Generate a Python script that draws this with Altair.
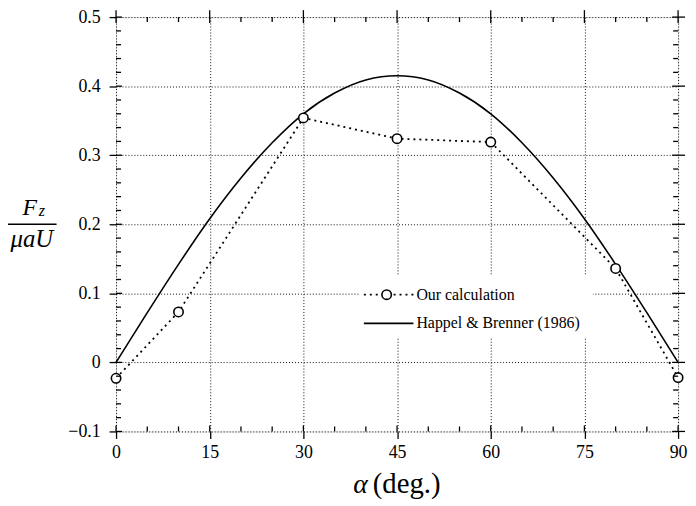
import altair as alt
import pandas as pd

# ---- data ----
x_ticks = [0, 15, 30, 45, 60, 75, 90]
y_ticks = [-0.1, 0.0, 0.1, 0.2, 0.3, 0.4, 0.5]
x_minor = [5, 10, 20, 25, 35, 40, 50, 55, 65, 70, 80, 85]
y_minor = [-0.08, -0.06, -0.04, -0.02, 0.02, 0.04, 0.06, 0.08,
           0.12, 0.14, 0.16, 0.18, 0.22, 0.24, 0.26, 0.28,
           0.32, 0.34, 0.36, 0.38, 0.42, 0.44, 0.46, 0.48]

alpha_hb = [0, 5, 10, 15, 20, 25, 30, 35, 40, 45, 50, 55, 60, 65, 70, 75, 80, 85, 90]
fz_hb = [0.0, 0.072, 0.142, 0.208, 0.267, 0.318, 0.360, 0.390, 0.409, 0.415,
         0.409, 0.390, 0.360, 0.318, 0.267, 0.208, 0.142, 0.072, 0.0]

alpha_calc = [0, 10, 30, 45, 60, 80, 90]
fz_calc = [-0.023, 0.073, 0.354, 0.324, 0.319, 0.136, -0.022]

legend_labels = ["Our calculation", "Happel & Brenner (1986)"]

W, H = 567, 418
FONT = "Liberation Serif"

hb = pd.DataFrame({"a": alpha_hb, "f": fz_hb})
calc = pd.DataFrame({"a": alpha_calc, "f": fz_calc})
xt = pd.DataFrame({"v": x_ticks})
yt = pd.DataFrame({"v": y_ticks})
xm = pd.DataFrame({"v": x_minor})
ym = pd.DataFrame({"v": y_minor})
one = pd.DataFrame({"k": [0]})

xscale = alt.Scale(domain=[0, 90], nice=False, zero=False)
yscale = alt.Scale(domain=[-0.1, 0.5], nice=False, zero=False)

xaxis = alt.Axis(values=x_ticks, grid=True, gridDash=[1, 2], gridColor="#111",
                 gridWidth=1, tickSize=7, tickColor="black", tickWidth=1.3,
                 domain=False, labelFont=FONT, labelFontSize=18, labelColor="black",
                 labelPadding=5, title=None, labelFlush=False)
yaxis = alt.Axis(values=y_ticks, grid=True, gridDash=[1, 2], gridColor="#111",
                 gridWidth=1, tickSize=7, tickColor="black", tickWidth=1.3,
                 domain=False, labelFont=FONT, labelFontSize=18, labelColor="black",
                 labelPadding=9, title=None, labelFlush=False,
                 labelExpr="abs(datum.value) < 1e-9 ? '0' : replace(format(datum.value, '.1f'), '-', '\u2013')")


def X(f):
    return alt.X(f"{f}:Q", scale=xscale, axis=xaxis)


def Y(f):
    return alt.Y(f"{f}:Q", scale=yscale, axis=yaxis)


hb_line = alt.Chart(hb).mark_line(color="black", strokeWidth=1.6, interpolate="monotone").encode(
    x=X("a"), y=Y("f"))
calc_line = alt.Chart(calc).mark_line(color="black", strokeWidth=1.8, strokeDash=[2, 4]).encode(
    x=X("a"), y=Y("f"))
calc_pts = alt.Chart(calc).mark_point(shape="circle", size=90, filled=True, fill="white",
                                      stroke="black", strokeWidth=1.6, opacity=1).encode(
    x=X("a"), y=Y("f"))

# ticks (inner / mirrored)
tk = dict(color="black", strokeWidth=1.3)
x_major_top = alt.Chart(xt).mark_rule(**tk).encode(x=X("v"), y=alt.value(-7), y2=alt.value(6))
x_major_bot = alt.Chart(xt).mark_rule(**tk).encode(x=X("v"), y=alt.value(H - 6), y2=alt.value(H))
x_minor_top = alt.Chart(xm).mark_rule(**tk).encode(x=X("v"), y=alt.value(0), y2=alt.value(5))
x_minor_bot = alt.Chart(xm).mark_rule(**tk).encode(x=X("v"), y=alt.value(H - 5), y2=alt.value(H))
y_major_l = alt.Chart(yt).mark_rule(**tk).encode(y=Y("v"), x=alt.value(0), x2=alt.value(6))
y_major_r = alt.Chart(yt).mark_rule(**tk).encode(y=Y("v"), x=alt.value(W - 6), x2=alt.value(W + 7))
y_minor_l = alt.Chart(ym).mark_rule(**tk).encode(y=Y("v"), x=alt.value(0), x2=alt.value(5))
y_minor_r = alt.Chart(ym).mark_rule(**tk).encode(y=Y("v"), x=alt.value(W - 5), x2=alt.value(W))

# legend
leg_box = alt.Chart(one).mark_rect(fill="white").encode(
    x=alt.value(245), x2=alt.value(481), y=alt.value(260), y2=alt.value(323))
leg_l1 = alt.Chart(one).mark_rule(color="black", strokeWidth=1.8, strokeDash=[2, 4]).encode(
    x=alt.value(250), x2=alt.value(300), y=alt.value(280))
leg_p1 = alt.Chart(one).mark_point(shape="circle", size=90, filled=True, fill="white",
                                   stroke="black", strokeWidth=1.6, opacity=1).encode(
    x=alt.value(273), y=alt.value(280))
leg_l2 = alt.Chart(one).mark_rule(color="black", strokeWidth=1.6).encode(
    x=alt.value(250), x2=alt.value(300), y=alt.value(309))
leg_t1 = alt.Chart(one).mark_text(text=legend_labels[0], font=FONT, fontSize=16, align="left",
                                  baseline="middle", color="black").encode(
    x=alt.value(303), y=alt.value(280))
leg_t2 = alt.Chart(one).mark_text(text=legend_labels[1], font=FONT, fontSize=16, align="left",
                                  baseline="middle", color="black").encode(
    x=alt.value(303), y=alt.value(309))

# axis titles
xt_alpha = alt.Chart(one).mark_text(text="\u03b1", font=FONT, fontSize=28, fontStyle="italic",
                                    align="right", baseline="alphabetic", color="black").encode(
    x=alt.value(254), y=alt.value(480))
xt_deg = alt.Chart(one).mark_text(text="(deg.)", font=FONT, fontSize=29, align="left",
                                  baseline="alphabetic", color="black").encode(
    x=alt.value(259), y=alt.value(480))
yt_F = alt.Chart(one).mark_text(text="F", font=FONT, fontSize=24, fontStyle="italic",
                                align="center", baseline="alphabetic", color="black").encode(
    x=alt.value(-87), y=alt.value(200))
yt_z = alt.Chart(one).mark_text(text="z", font=FONT, fontSize=16, fontStyle="italic",
                                align="left", baseline="alphabetic", color="black").encode(
    x=alt.value(-78), y=alt.value(201))
yt_bar = alt.Chart(one).mark_rule(color="black", strokeWidth=1.4).encode(
    x=alt.value(-109), x2=alt.value(-60), y=alt.value(209))
yt_den = alt.Chart(one).mark_text(text="\u03bcaU", font=FONT, fontSize=25, fontStyle="italic",
                                  align="center", baseline="alphabetic", color="black").encode(
    x=alt.value(-85), y=alt.value(232))

chart = alt.layer(
    hb_line, calc_line, calc_pts,
    x_major_top, x_major_bot, x_minor_top, x_minor_bot,
    y_major_l, y_major_r, y_minor_l, y_minor_r,
    leg_box, leg_l1, leg_p1, leg_l2, leg_t1, leg_t2,
    xt_alpha, xt_deg, yt_F, yt_z, yt_bar, yt_den,
).properties(
    width=W, height=H,
    autosize=alt.AutoSizeParams(type="none"),
    padding={"left": 109, "top": 7, "right": 10, "bottom": 70},
).configure_view(stroke="black", strokeWidth=1.6).configure(background="white")

chart.save("out.html", embed_options={"renderer": "svg", "actions": False})
